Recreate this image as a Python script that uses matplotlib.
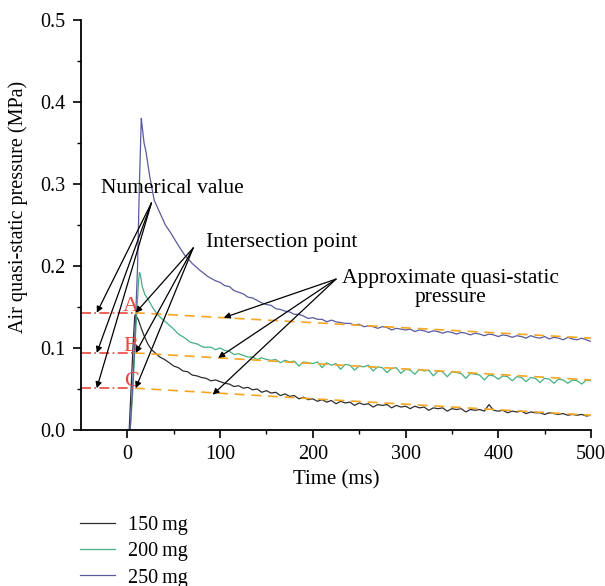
import matplotlib
matplotlib.use('Agg')
import matplotlib.pyplot as plt

plt.rcParams['font.family'] = ['Liberation Serif', 'DejaVu Serif']

# ---- data ------------------------------------------------------------------
t_150 = [0, 2, 4, 6, 8, 10, 12, 15, 18, 22, 26, 30, 35, 40, 44, 50, 55, 60, 65,
         70, 75, 80, 85, 90, 95]
p_150 = [0, 0, 0.05, 0.10, 0.14, 0.138, 0.134, 0.124, 0.115, 0.105, 0.098,
         0.094, 0.089, 0.086, 0.083, 0.078, 0.076, 0.072, 0.071, 0.067, 0.066,
         0.064, 0.063, 0.060, 0.061]
t_150 += list(range(100, 505, 5))
p_150 += [0.059, 0.057, 0.056, 0.053, 0.054, 0.051, 0.052, 0.049, 0.050, 0.046,
          0.048, 0.045, 0.046, 0.042, 0.044, 0.041, 0.042, 0.038, 0.040, 0.037,
          0.038, 0.035, 0.037, 0.034, 0.036, 0.032, 0.035, 0.033, 0.034, 0.030,
          0.033, 0.031, 0.032, 0.028, 0.031, 0.030, 0.031, 0.027, 0.030, 0.028,
          0.029, 0.026, 0.029, 0.027, 0.028, 0.024, 0.027, 0.026, 0.027, 0.023,
          0.026, 0.025, 0.026, 0.022, 0.025, 0.024, 0.025, 0.023, 0.031, 0.024,
          0.023, 0.024, 0.021, 0.023, 0.022, 0.023, 0.020, 0.022, 0.021, 0.021,
          0.019, 0.021, 0.020, 0.019, 0.020, 0.018, 0.019, 0.018, 0.019, 0.017,
          0.018]

t_200 = [0, 3, 6, 9, 12, 13, 14, 16, 19, 23, 28, 33, 38, 44, 50, 55, 61, 68,
         75, 82, 90, 95]
p_200 = [0, 0, 0.05, 0.12, 0.18, 0.192, 0.19, 0.175, 0.165, 0.158, 0.148,
         0.140, 0.135, 0.129, 0.123, 0.117, 0.113, 0.107, 0.105, 0.101, 0.101,
         0.098]
t_200 += list(range(100, 505, 5))
p_200 += [0.100, 0.097, 0.096, 0.092, 0.093, 0.091, 0.089, 0.089, 0.086, 0.088,
          0.086, 0.085, 0.086, 0.082, 0.085, 0.083, 0.084, 0.078, 0.083, 0.082,
          0.081, 0.083, 0.076, 0.082, 0.079, 0.081, 0.074, 0.080, 0.079, 0.073,
          0.078, 0.077, 0.079, 0.072, 0.077, 0.076, 0.070, 0.075, 0.076, 0.069,
          0.074, 0.073, 0.068, 0.074, 0.072, 0.073, 0.066, 0.072, 0.071, 0.065,
          0.071, 0.070, 0.069, 0.063, 0.069, 0.068, 0.067, 0.061, 0.067, 0.066,
          0.062, 0.066, 0.065, 0.060, 0.065, 0.064, 0.059, 0.064, 0.063, 0.058,
          0.063, 0.062, 0.057, 0.062, 0.061, 0.057, 0.061, 0.060, 0.056, 0.061,
          0.060]

t_250 = [0, 3, 6, 9, 11, 13, 15, 16, 18, 20, 24, 29, 35, 41, 47, 55, 62, 70,
         78, 87, 95]
p_250 = [0, 0, 0.06, 0.14, 0.20, 0.30, 0.38, 0.37, 0.35, 0.34, 0.31, 0.28,
         0.265, 0.25, 0.24, 0.225, 0.213, 0.203, 0.195, 0.187, 0.182]
t_250 += list(range(100, 505, 5))
p_250 += [0.180, 0.176, 0.175, 0.170, 0.168, 0.166, 0.162, 0.161, 0.158, 0.155,
          0.153, 0.152, 0.148, 0.147, 0.145, 0.144, 0.141, 0.141, 0.139, 0.136,
          0.137, 0.135, 0.135, 0.132, 0.134, 0.132, 0.131, 0.130, 0.130, 0.128,
          0.129, 0.126, 0.127, 0.126, 0.124, 0.126, 0.125, 0.122, 0.124, 0.123,
          0.122, 0.123, 0.120, 0.122, 0.121, 0.119, 0.121, 0.120, 0.118, 0.120,
          0.119, 0.117, 0.119, 0.118, 0.116, 0.118, 0.117, 0.115, 0.117, 0.116,
          0.114, 0.116, 0.115, 0.113, 0.115, 0.114, 0.112, 0.115, 0.113, 0.112,
          0.114, 0.111, 0.113, 0.112, 0.110, 0.113, 0.111, 0.110, 0.112, 0.110,
          0.108]

# intersection points A, B, C and the fitted quasi-static lines
labels_abc = ['A', 'B', 'C']
t_cross = 8
p_cross = [0.143, 0.094, 0.051]
p_end = [0.112, 0.061, 0.018]

# ---- figure ----------------------------------------------------------------
fig = plt.figure(figsize=(6.05, 5.86), dpi=100)
ax = fig.add_axes([81 / 605, 1 - 430 / 586, 510 / 605, 410 / 586])

l1, = ax.plot(t_150, p_150, color='#2e2e2e', lw=0.9, label='150\u2009mg')
l2, = ax.plot(t_200, p_200, color='#45b083', lw=0.9, label='200\u2009mg')
l3, = ax.plot(t_250, p_250, color='#5a5a9e', lw=0.9, label='250\u2009mg')

for lab, p0, p1 in zip(labels_abc, p_cross, p_end):
    ax.plot([-50, t_cross], [p0, p0], color='#e8473c', lw=1.2, ls=(0, (6, 2, 1, 2)))
    ax.plot([t_cross, 500], [p0, p1], color='#f5a623', lw=1.2, ls=(0, (6, 4)))
    ax.text(t_cross - 4, p0 + 0.008, lab, color='#e8473c', fontsize=16,
            ha='center', va='center')

arrow = dict(arrowstyle='-|>', color='black', lw=0.9, mutation_scale=9,
             shrinkA=0, shrinkB=0)

ax.text(-28, 0.294, 'Numerical value', fontsize=15.5, ha='left', va='center')
for p0 in p_cross:
    ax.annotate('', xy=(-33, p0), xytext=(26, 0.277), arrowprops=arrow)

ax.text(85, 0.229, 'Intersection point', fontsize=15.5, ha='left', va='center')
for p0 in p_cross:
    ax.annotate('', xy=(t_cross + 1, p0), xytext=(71, 0.222), arrowprops=arrow)

ax.text(348, 0.173, 'Approximate quasi-static\npressure', fontsize=15.5,
        ha='center', va='center', linespacing=1.0)
for tt, pp in zip([104, 98, 92], [0.137, 0.088, 0.043]):
    ax.annotate('', xy=(tt, pp), xytext=(225, 0.184), arrowprops=arrow)

ax.set_xlim(-50, 500)
ax.set_ylim(0, 0.5)
ax.set_xticks([0, 100, 200, 300, 400, 500])
ax.set_xticks(range(50, 500, 100), minor=True)
ax.set_yticks([0, 0.1, 0.2, 0.3, 0.4, 0.5])
ax.set_yticks([0.05, 0.15, 0.25, 0.35, 0.45], minor=True)
ax.set_yticklabels(['0.0', '0.1', '0.2', '0.3', '0.4', '0.5'])
ax.spines['top'].set_visible(False)
ax.spines['right'].set_visible(False)
for s in ['left', 'bottom']:
    ax.spines[s].set_linewidth(1.3)
ax.tick_params(which='major', direction='out', length=6, width=1.2,
               labelsize=14.5, pad=5)
ax.tick_params(which='minor', direction='out', length=3, width=1.0)
ax.set_xlabel('Time (ms)', fontsize=15, labelpad=4)
ax.set_ylabel('Air quasi-static pressure (MPa)', fontsize=14.5)
ax.yaxis.set_label_coords(-0.104, 0.544)

fig.legend(handles=[l1, l2, l3], loc='upper left',
           bbox_to_anchor=(62 / 605, 1 - 498 / 586),
           frameon=False, fontsize=14.5, handlelength=1.75, handletextpad=0.65,
           labelspacing=0.35)

fig.savefig('out.png', dpi=100)
